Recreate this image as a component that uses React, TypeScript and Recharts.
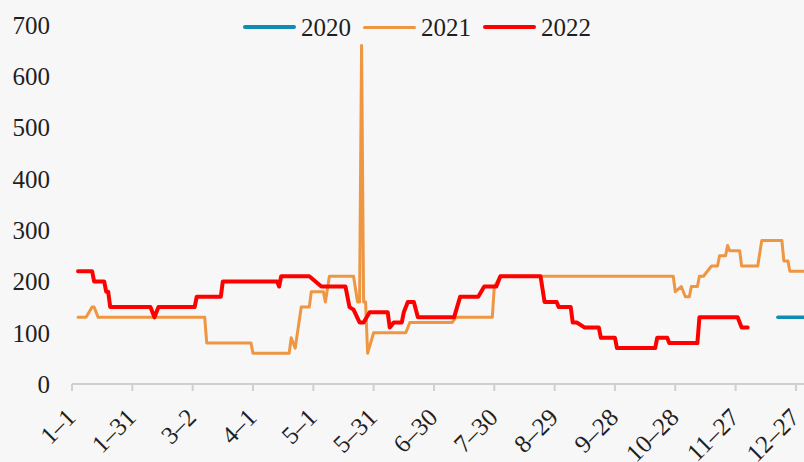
import { Line, LineChart, XAxis, YAxis } from "recharts";

// day index counted from 1-1 (= 0)
const xTickDays = [0, 30, 60, 90, 120, 150, 180, 210, 240, 270, 300, 330, 360];
const xTickLabels = ["1–1", "1–31", "3–2", "4–1", "5–1", "5–31", "6–30", "7–30", "8–29", "9–28", "10–28", "11–27", "12–27"];
const yTicks = [0, 100, 200, 300, 400, 500, 600, 700];

const days2020 = [351, 365];
const vals2020 = [130, 130];

const days2021 = [
  3, 7, 10, 11, 13, 66, 67, 89, 90, 108, 109, 111, 114, 118, 119, 125, 126, 128, 140, 142,
  143, 144, 145, 146, 147, 150, 166, 168, 189, 191, 209, 210, 213, 299, 300, 303, 305, 307,
  308, 311, 312, 314, 318, 321, 322, 325, 326, 327, 332, 333, 341, 343, 353, 354, 356, 357, 365,
];
const vals2021 = [
  130, 130, 150, 150, 130, 130, 80, 80, 60, 60, 90, 70, 150, 150, 180, 180, 160, 210, 210, 160,
  160, 660, 160, 160, 60, 100, 100, 120, 120, 130, 130, 190, 210, 210, 180, 190, 170, 170,
  190, 190, 210, 210, 230, 230, 250, 250, 270, 260, 260, 230, 230, 280, 280, 240, 240, 220, 220,
];

const days2022 = [
  3, 10, 11, 16, 17, 18, 19, 39, 41, 43, 61, 62, 74, 75, 102, 103, 104, 118, 124, 136,
  138, 140, 143, 145, 148, 157, 158, 160, 164, 165, 167, 170, 172, 190, 193, 202, 205, 211,
  213, 233, 235, 241, 242, 248, 249, 251, 255, 262, 263, 270, 271, 290, 291, 296, 297, 311,
  312, 331, 333, 336,
];
const vals2022 = [
  220, 220, 200, 200, 180, 180, 150, 150, 130, 150, 150, 170, 170, 200, 200, 190, 210, 210, 190, 190,
  150, 145, 120, 120, 140, 140, 110, 120, 120, 140, 160, 160, 130, 130, 170, 170, 190, 190,
  210, 210, 160, 160, 150, 150, 120, 120, 110, 110, 90, 90, 70, 70, 90, 90, 80, 80,
  130, 130, 110, 110,
];

const toPoints = (days: number[], vals: number[]) =>
  days.map((d, i) => ({ day: d, value: vals[i] }));

const series = [
  { name: "2020", color: "#0e8cb6", width: 3.5, data: toPoints(days2020, vals2020) },
  { name: "2021", color: "#ee9642", width: 3, data: toPoints(days2021, vals2021) },
  { name: "2022", color: "#ff0000", width: 4, data: toPoints(days2022, vals2022) },
];

const font = '"Liberation Serif", "Times New Roman", serif';
const textColor = "#1f1f1f";
const axisGray = "#d0d0d0";

function XTick({ x, y, payload }: any) {
  const i = xTickDays.indexOf(payload.value);
  return (
    <text
      transform={`translate(${x + 5},${y + 28}) rotate(-45)`}
      textAnchor="end"
      fontSize={25}
      fontFamily={font}
      fill={textColor}
    >
      {i >= 0 ? xTickLabels[i] : ""}
    </text>
  );
}

export default function App() {
  return (
    <div
      style={{
        position: "absolute",
        left: 0,
        top: 0,
        width: 804,
        height: 462,
        overflow: "hidden",
        background: "#f7f7f7",
        fontFamily: font,
      }}
    >
      <div
        style={{
          position: "absolute",
          left: 243,
          top: 12,
          height: 30,
          display: "flex",
          alignItems: "center",
          fontSize: 25,
          lineHeight: 1,
          color: textColor,
        }}
      >
        {series.map((s) => (
          <div key={s.name} style={{ display: "flex", alignItems: "center", marginRight: 12 }}>
            <span
              style={{
                display: "inline-block",
                width: 53,
                height: s.width,
                borderRadius: 2,
                background: s.color,
                marginRight: 5,
              }}
            />
            <span>{s.name}</span>
          </div>
        ))}
      </div>
      <LineChart width={806} height={462} margin={{ top: 25, right: 0, bottom: 0, left: 0 }}>
        <XAxis
          type="number"
          dataKey="day"
          domain={[0, 365]}
          ticks={xTickDays}
          interval={0}
          height={78}
          axisLine={{ stroke: axisGray, strokeWidth: 2 }}
          tickLine={{ stroke: axisGray, strokeWidth: 2 }}
          tickSize={7}
          tickMargin={0}
          tick={<XTick />}
        />
        <YAxis
          type="number"
          domain={[0, 700]}
          ticks={yTicks}
          interval={0}
          width={72}
          axisLine={false}
          tickLine={false}
          tickSize={0}
          tickMargin={22}
          tick={{ fontSize: 25, fill: textColor, fontFamily: font }}
        />
        {series.map((s) => (
          <Line
            key={s.name}
            data={s.data}
            dataKey="value"
            name={s.name}
            type="linear"
            stroke={s.color}
            strokeWidth={s.width}
            strokeLinecap="round"
            strokeLinejoin="round"
            dot={false}
            activeDot={false}
            isAnimationActive={false}
          />
        ))}
      </LineChart>
    </div>
  );
}
